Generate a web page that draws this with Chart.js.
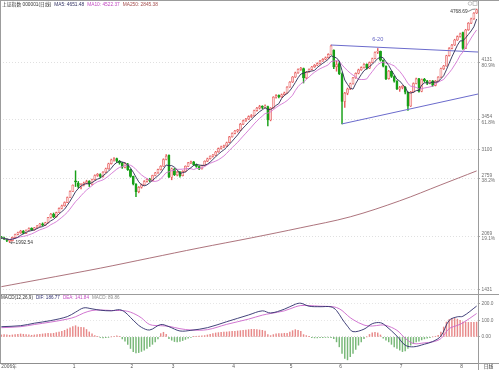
<!DOCTYPE html>
<html>
<head>
<meta charset="utf-8">
<script src="https://cdn.jsdelivr.net/npm/chart.js@4.4.1/dist/chart.umd.min.js"></script>
<style>
  html, body { margin: 0; padding: 0; background: #fff; }
  canvas { display: block; }
</style>
</head>
<body>
<canvas id="kline" width="499" height="370"></canvas>
<script>
// Daily quotes, one entry per session (left to right)
const open = [
  2060,2050,2032,2010,2018,2056,2092,2110,2132,2104,
  2140,2162,2144,2170,2190,2216,2200,2232,2292,2332,
  2300,2352,2402,2432,2472,2532,2602,2728,2700,2655,
  2682,2702,2722,2688,2742,2792,2802,2780,2832,2872,
  2932,2978,2992,2958,2940,2888,2928,2862,2780,2688,
  2600,2652,2682,2722,2748,2730,2792,2822,2862,2902,
  2982,3030,2770,2868,2800,2832,2790,2842,2902,2942,
  2952,2920,2898,2870,2912,2962,2992,3022,3032,3072,
  3112,3132,3142,3185,3252,3292,3322,3328,3402,3442,
  3462,3492,3502,3562,3592,3612,3600,3610,3450,3595,
  3722,3742,3725,3752,3772,3842,3902,3962,4012,4052,
  4062,3952,4022,4052,4082,4102,4122,4152,4172,4192,
  4232,4280,4082,4120,4000,3670,3768,3820,3882,3952,
  4006,4047,4074,4112,4066,4134,4180,4255,4265,4158,
  4090,3942,4028,3966,3912,3818,3838,3842,3780,3617,
  3783,3885,3941,3793,3933,3915,3890,3915,3862,3914,
  3960,4060,4093,4215,4302,4342,4402,4442,4490,4302,
  4522,4602,4652,4722
];
const high = [
  2068,2058,2040,2025,2060,2095,2118,2140,2138,2146,
  2168,2170,2175,2198,2222,2228,2236,2295,2340,2345,
  2356,2408,2440,2478,2536,2608,2680,2847,2720,2695,
  2712,2735,2730,2748,2798,2815,2812,2838,2880,2938,
  2985,3005,2998,2970,2948,2940,2935,2866,2785,2695,
  2660,2690,2730,2755,2758,2795,2828,2868,2908,2990,
  3040,3035,2880,2875,2840,2840,2848,2906,2948,2962,
  2958,2928,2905,2916,2966,2998,3026,3042,3078,3118,
  3140,3152,3188,3256,3298,3328,3340,3410,3450,3470,
  3500,3515,3568,3600,3625,3620,3630,3615,3598,3728,
  3752,3750,3760,3782,3848,3908,3968,4020,4058,4075,
  4068,4028,4058,4088,4110,4130,4158,4180,4200,4238,
  4341,4285,4150,4140,4010,3780,3830,3890,3958,4012,
  4055,4082,4120,4118,4140,4186,4260,4300,4270,4165,
  4095,4040,4035,3975,3920,3850,3860,3848,3785,3790,
  3892,3948,3945,3938,3945,3922,3922,3920,3920,3966,
  4066,4100,4220,4310,4350,4410,4450,4482,4495,4528,
  4608,4660,4728,4768.69
];
const low = [
  2040,2028,2005,1992.54,2012,2050,2085,2102,2098,2100,
  2132,2138,2140,2162,2185,2192,2195,2228,2285,2290,
  2295,2348,2395,2425,2468,2528,2598,2660,2640,2630,
  2668,2690,2660,2680,2735,2780,2765,2772,2825,2865,
  2925,2960,2945,2925,2875,2880,2850,2770,2680,2540,
  2585,2640,2675,2712,2718,2725,2785,2815,2855,2898,
  2975,2765,2740,2790,2785,2770,2785,2835,2895,2930,
  2910,2888,2860,2865,2905,2955,2985,3010,3025,3066,
  3105,3122,3136,3180,3245,3285,3305,3322,3395,3432,
  3455,3480,3495,3555,3580,3585,3590,3380,3440,3590,
  3710,3712,3718,3745,3766,3836,3895,3955,4005,4040,
  3890,3940,4015,4045,4075,4095,4115,4145,4165,4185,
  4228,4060,4030,3990,3404,3600,3750,3810,3875,3945,
  3998,4040,4066,4055,4060,4128,4175,4240,4150,4080,
  3930,3935,3955,3900,3810,3790,3820,3760,3563,3610,
  3775,3878,3780,3785,3900,3870,3880,3850,3855,3908,
  3955,4050,4088,4208,4295,4335,4395,4435,4290,4298,
  4515,4595,4645,4715
];
const close = [
  2050,2035,2020,2016,2055,2090,2110,2130,2105,2140,
  2160,2145,2170,2190,2215,2200,2230,2290,2330,2300,
  2350,2400,2430,2470,2530,2600,2675,2715,2660,2680,
  2700,2720,2690,2740,2790,2800,2780,2830,2870,2930,
  2975,2990,2960,2940,2890,2930,2860,2780,2690,2600,
  2650,2680,2720,2745,2730,2790,2820,2860,2900,2980,
  3020,2775,2870,2800,2830,2790,2840,2900,2940,2950,
  2920,2900,2870,2910,2960,2990,3020,3030,3070,3110,
  3130,3140,3180,3250,3290,3320,3325,3400,3440,3460,
  3490,3500,3560,3590,3610,3600,3620,3450,3590,3720,
  3740,3725,3750,3770,3840,3900,3960,4010,4050,4060,
  3950,4020,4050,4080,4100,4120,4150,4170,4190,4230,
  4330,4080,4110,4000,3670,3767,3818,3880,3950,4004,
  4045,4072,4110,4065,4132,4178,4252,4269,4160,4091,
  3941,4030,3967,3913,3820,3836,3840,3780,3615,3781,
  3883,3939,3791,3931,3914,3889,3913,3860,3912,3958,
  4058,4091,4213,4300,4340,4400,4440,4471,4300,4520,
  4600,4650,4720,4760
];

// 250-day average, read at a few sessions
const ma250Idx = [0, 14, 36, 54, 72, 91, 109, 127, 145, 160, 173];
const ma250Val = [1470, 1555, 1690, 1810, 1930, 2050, 2170, 2300, 2490, 2680, 2845.38];

// trend lines drawn on the chart: [session, price]
const upperTrend = [[120, 4341], [173.5, 4258]];
const lowerTrend = [[124, 3404], [173.5, 3759]];
const peakIdx = 137;
const peakLabel = '6-20';

// MACD(12,26,9)
const macdIdx = [0,7,12,18,24,27,30,33,36,40,43,45,47,49,51,54,58,61,65,69,
  75,82,90,95,98,103,107,109,112,116,120,122,124,126,128,132,135,138,140,144,
  147,150,154,157,160,163,166,168,173];
const difVal = [62,68,83,99,123,150,176,170,162,158,165,150,118,85,58,42,75,62,36,40,
  56,92,133,158,145,168,198,204,186,183,182,160,110,65,32,47,80,86,66,5,
  -50,-60,-44,-28,5,100,122,125,186.77];
const deaVal = [56,62,75,90,108,122,145,160,163,160,160,158,150,135,115,75,68,64,50,42,
  44,76,108,132,142,158,182,190,190,186,184,178,160,130,105,72,66,72,70,40,
  -8,-40,-36,-30,-10,50,70,85,141.84];
const macdHist = [
  12,14,12,10,12,14,16,18,16,14,12,10,12,14,16,18,20,22,20,22,26,30,34,40,48,
  55,62,68,60,58,56,45,
  30,18,8,2,-4,-6,-4,-2,0,4,6,2,
  -12,-25,-45,-70,-90,-97,-95,-88,-80,-70,-58,-45,-30,-12,
  20,28,15,
  -10,-20,-28,-30,-28,-22,-15,-8,
  -3,2,4,5,6,8,
  12,16,20,24,26,28,30,30,32,34,34,36,38,40,42,44,
  46,46,44,42,40,36,
  14,8,
  14,18,20,20,22,22,
  30,38,44,40,34,
  14,8,2,-4,-6,-6,-4,-4,-2,-2,-4,
  -10,-30,-60,-100,-130,-139,-120,-100,-75,-50,-30,
  -10,0,
  15,25,28,24,12,
  -8,-20,-30,-45,-60,-70,-80,-89,-85,-70,
  -50,-40,-30,-25,-18,-12,-8,
  -4,0,4,
  10,30,60,90,105,112,112,108,100,92,90,88,88,89,89.86
];

// axis labels
const monthIdx = [0, 26, 47, 62, 84, 105, 123, 145, 167];
const monthLabels = ['2006年', '1', '2', '3', '4', '5', '6', '7', '8'];
const priceTicks = [4131, 3454, 3100, 2759, 2069, 1431];
const priceTickLabels = [['4131', '80.9%'], ['3454', '61.8%'], '3100', ['2759', '38.2%'], ['2069', '19.1%'], '1431'];
const macdTicks = [200, 100, 0];
const macdTickLabels = ['200.0', '100.0', '0.00'];

const titleParts = [
  ['上证指数 000001(日线)', '#333333'],
  ['MA5: 4651.48', '#2f2f60'],
  ['MA10: 4522.37', '#c24ac2'],
  ['MA250: 2845.38', '#a34c4c']
];
const macdTitleParts = [
  ['MACD(12,26,9)', '#333333'],
  ['DIF: 186.77', '#2f2f70'],
  ['DEA: 141.84', '#c24ac2'],
  ['MACD: 89.86', '#8a8a8a']
];

const FONT = '"Liberation Sans", "Noto Sans CJK SC", sans-serif';
const UP_FILL = '#fbd4d4';
const UP_EDGE = '#e66060';
const DOWN = '#18a018';

function movingAverage(src, n) {
  return src.map((_, i) => {
    const win = src.slice(Math.max(0, i - n + 1), i + 1);
    return win.reduce((a, b) => a + b, 0) / win.length;
  });
}

const sessions = close.map((_, i) => i);
const rising = sessions.map(i => close[i] >= open[i]);
const ma5 = movingAverage(close, 5);
const ma10 = movingAverage(close, 10);

function line(points, color, axis, extra) {
  return Object.assign({
    type: 'line',
    data: points,
    borderColor: color,
    borderWidth: 0.9,
    pointRadius: 0,
    fill: false,
    yAxisID: axis,
    order: 1
  }, extra || {});
}

const overlay = {
  id: 'overlay',
  afterDraw(chart) {
    const { ctx, chartArea: area } = chart;
    const { x, y, y2 } = chart.scales;
    ctx.save();

    // frame and pane divider
    ctx.strokeStyle = '#9c9c9c';
    ctx.lineWidth = 1;
    ctx.beginPath();
    ctx.moveTo(0.5, 0); ctx.lineTo(0.5, area.bottom);
    ctx.moveTo(0, 0.5); ctx.lineTo(chart.width, 0.5);
    const split = Math.round(y.bottom) + 0.5;
    ctx.moveTo(0, split); ctx.lineTo(chart.width, split);
    ctx.moveTo(area.right, Math.round(area.bottom) + 0.5); ctx.lineTo(chart.width, Math.round(area.bottom) + 0.5);
    ctx.moveTo(Math.round(area.right) + 0.5, area.bottom); ctx.lineTo(Math.round(area.right) + 0.5, chart.height);
    ctx.stroke();

    // titles
    ctx.textBaseline = 'middle';
    ctx.textAlign = 'left';
    ctx.font = '4.8px ' + FONT;
    let tx = 2;
    titleParts.forEach(([t, c]) => {
      ctx.fillStyle = c;
      ctx.fillText(t, tx, 4.5);
      tx += ctx.measureText(t).width + 3;
    });
    ctx.font = '4.6px ' + FONT;
    tx = 1;
    macdTitleParts.forEach(([t, c]) => {
      ctx.fillStyle = c;
      ctx.fillText(t, tx, y2.top + 3.5);
      tx += ctx.measureText(t).width + 3;
    });

    // highest / lowest marks
    ctx.font = '4.8px ' + FONT;
    const hiI = high.indexOf(Math.max(...high));
    let px = x.getPixelForValue(hiI), py = y.getPixelForValue(high[hiI]);
    ctx.fillStyle = '#333';
    ctx.textAlign = 'right';
    ctx.fillText(high[hiI].toFixed(2), px - 9, py + 2.5);
    ctx.strokeStyle = '#555';
    ctx.lineWidth = 0.7;
    ctx.beginPath();
    ctx.moveTo(px - 8.5, py + 2.5);
    ctx.quadraticCurveTo(px - 4, py - 0.5, px - 1, py);
    ctx.stroke();

    const loI = low.indexOf(Math.min(...low));
    px = x.getPixelForValue(loI); py = y.getPixelForValue(low[loI]);
    ctx.textAlign = 'left';
    ctx.fillText(low[loI].toFixed(2), px + 6, py);
    ctx.beginPath();
    ctx.moveTo(px + 1, py); ctx.lineTo(px + 5.5, py);
    ctx.moveTo(px + 1, py); ctx.lineTo(px + 2.5, py - 1.2);
    ctx.moveTo(px + 1, py); ctx.lineTo(px + 2.5, py + 1.2);
    ctx.stroke();

    // 6-20 mark
    ctx.fillStyle = '#6464c4';
    ctx.textAlign = 'center';
    ctx.font = '5.6px ' + FONT;
    ctx.fillText(peakLabel, x.getPixelForValue(peakIdx), y.getPixelForValue(high[peakIdx]) - 9);

    // period box and small icons
    ctx.fillStyle = '#333';
    ctx.font = '4.8px ' + FONT;
    ctx.fillText('日线', (area.right + chart.width) / 2, (area.bottom + chart.height) / 2 + 0.5);
    ctx.strokeStyle = '#aaa';
    ctx.lineWidth = 0.7;
    ctx.beginPath();
    ctx.arc(area.right - 8, 3.5, 1.8, 0, Math.PI * 2);
    ctx.stroke();
    ctx.strokeRect(area.right - 5, 1.5, 4, 4);

    ctx.restore();
  }
};

new Chart(document.getElementById('kline'), {
  data: {
    datasets: [
      line(sessions.map(i => ({ x: i, y: ma5[i] })), '#2c2c55', 'y'),
      line(sessions.map(i => ({ x: i, y: ma10[i] })), '#d474d4', 'y'),
      line(ma250Idx.map((v, k) => ({ x: v, y: ma250Val[k] })), '#a4646e', 'y', { tension: 0.35 }),
      line(upperTrend.map(([a, b]) => ({ x: a, y: b })), '#6b6bcc', 'y', { borderWidth: 1 }),
      line(lowerTrend.map(([a, b]) => ({ x: a, y: b })), '#6b6bcc', 'y', { borderWidth: 1 }),
      {
        type: 'bar',
        data: sessions.map(i => ({ x: i, y: [open[i], close[i]] })),
        backgroundColor: rising.map(u => u ? UP_FILL : DOWN),
        borderColor: rising.map(u => u ? UP_EDGE : DOWN),
        borderWidth: 0.6,
        borderSkipped: false,
        barThickness: 2.2,
        minBarLength: 1,
        grouped: false,
        yAxisID: 'y',
        order: 2
      },
      {
        type: 'bar',
        data: sessions.map(i => ({ x: i, y: [low[i], high[i]] })),
        backgroundColor: rising.map(u => u ? UP_EDGE : DOWN),
        barThickness: 0.8,
        grouped: false,
        yAxisID: 'y',
        order: 3
      },
      {
        type: 'bar',
        data: sessions.map(i => ({ x: i, y: macdHist[i] })),
        backgroundColor: macdHist.map(v => v >= 0 ? '#e88a8a' : '#78b878'),
        barThickness: 0.8,
        grouped: false,
        yAxisID: 'y2',
        order: 3
      },
      line(macdIdx.map((v, k) => ({ x: v, y: difVal[k] })), '#2e2e6c', 'y2', { tension: 0.35 }),
      line(macdIdx.map((v, k) => ({ x: v, y: deaVal[k] })), '#cc66cc', 'y2', { tension: 0.35 })
    ]
  },
  options: {
    responsive: false,
    devicePixelRatio: 1,
    animation: false,
    layout: { padding: 0 },
    plugins: { legend: { display: false }, tooltip: { enabled: false } },
    scales: {
      x: {
        type: 'linear',
        position: 'bottom',
        min: -0.5,
        max: 173.5,
        offset: false,
        afterBuildTicks: s => { s.ticks = monthIdx.map(v => ({ value: v })); },
        afterFit: s => { s.height = 7; s.paddingLeft = 0; s.paddingRight = 0; },
        ticks: {
          autoSkip: false, maxRotation: 0, minRotation: 0, padding: 0.5, align: 'start',
          color: '#555', font: { size: 4.8, family: FONT },
          callback: (v, i) => monthLabels[i]
        },
        grid: { display: false, drawTicks: false },
        border: { display: true, color: '#8f8f8f' }
      },
      y: {
        type: 'linear',
        position: 'right',
        stack: 'panes',
        stackWeight: 294,
        min: 1383,
        max: 4876,
        afterBuildTicks: s => { s.ticks = priceTicks.map(v => ({ value: v })); },
        afterFit: s => { s.width = 21; s.paddingTop = 0; s.paddingBottom = 0; },
        ticks: {
          padding: 1.5, color: '#707070', font: { size: 4.8, family: FONT, lineHeight: 1.1 },
          callback: (v, i) => priceTickLabels[i]
        },
        grid: { color: '#e0e0e0', tickLength: 2, tickColor: '#aaa' },
        border: { color: '#9c9c9c', dash: [1, 2] }
      },
      y2: {
        type: 'linear',
        position: 'right',
        stack: 'panes',
        stackWeight: 69,
        min: -158,
        max: 260,
        afterBuildTicks: s => { s.ticks = macdTicks.map(v => ({ value: v })); },
        afterFit: s => { s.width = 21; s.paddingTop = 0; s.paddingBottom = 0; },
        ticks: {
          padding: 1.5, color: '#707070', font: { size: 4.8, family: FONT },
          callback: (v, i) => macdTickLabels[i]
        },
        grid: { color: ctx => ctx.tick && ctx.tick.value === 0 ? '#d8d8d8' : '#e6e6e6', tickLength: 2, tickColor: '#aaa' },
        border: { color: '#9c9c9c', dash: [1, 2] }
      }
    }
  },
  plugins: [overlay]
});
</script>
</body>
</html>
